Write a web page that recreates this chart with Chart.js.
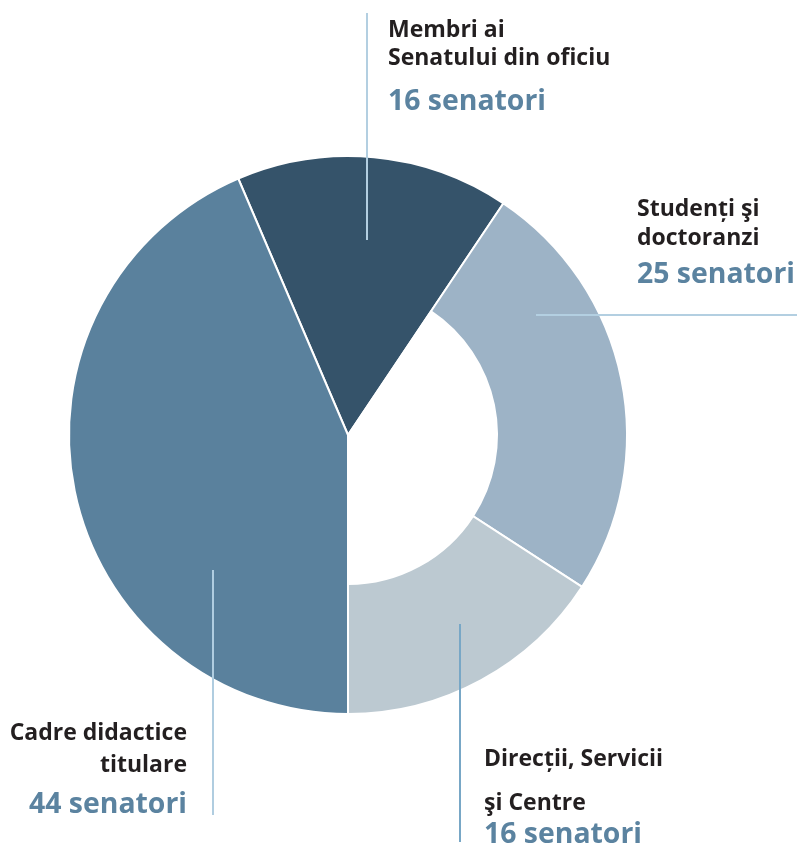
<!DOCTYPE html>
<html>
<head>
<meta charset="utf-8">
<script src="https://cdn.jsdelivr.net/npm/chart.js@4"></script>
<style>
  html, body { margin: 0; padding: 0; background: #fff; }
  #wrap { position: relative; width: 797px; height: 847px; }
  #wrap canvas { position: absolute; left: 0; top: 0; }
</style>
</head>
<body>
<div id="wrap">
  <canvas id="pie" width="797" height="847"></canvas>
  <canvas id="hole" width="797" height="847"></canvas>
</div>
<script>
// date
const categorii = ["Membri ai Senatului din oficiu", "Studenți şi doctoranzi", "Direcții, Servicii şi Centre", "Cadre didactice titulare"];
const senatori = [16, 25, 16, 44];
const randuri = [["Membri ai", "Senatului din oficiu"], ["Studenți şi", "doctoranzi"], ["Direcții, Servicii", "şi Centre"], ["Cadre didactice", "titulare"]];
const culori = ["#35536a", "#9db3c6", "#bcc9d1", "#5a819d"];
// felii care au gol in mijloc
const cuGol = [false, true, true, false];

// asezarea etichetelor (nu sunt date)
const etichete = [
  { x: 388, align: "left", y: [37, 65, 110], linie: [367, 13, 367, 240], culoare: "#b3cfe1" },
  { x: 637, align: "left", y: [216, 245, 283], linie: [536, 315, 797, 315], culoare: "#b3cfe1" },
  { x: 484, align: "left", y: [766, 810, 843], linie: [460, 624, 460, 842], culoare: "#78a7c6" },
  { x: 187, align: "right", y: [740, 772, 813], linie: [213, 570, 213, 815], culoare: "#b0cde0" },
];

const padding = { left: 0, right: 101, top: 23, bottom: 0 };
const rotatie = -23.17;

const pluginEtichete = {
  id: "etichete",
  afterDraw(chart) {
    const ctx = chart.ctx;
    ctx.save();
    etichete.forEach((e, i) => {
      ctx.strokeStyle = e.culoare;
      ctx.lineWidth = 2;
      ctx.beginPath();
      ctx.moveTo(e.linie[0], e.linie[1]);
      ctx.lineTo(e.linie[2], e.linie[3]);
      ctx.stroke();

      ctx.textAlign = e.align;
      ctx.textBaseline = "alphabetic";
      ctx.fillStyle = "#231f20";
      ctx.font = "bold 23px 'Open Sans'";
      ctx.fillText(randuri[i][0], e.x, e.y[0]);
      ctx.fillText(randuri[i][1], e.x, e.y[1]);
      ctx.fillStyle = "#5b83a0";
      ctx.font = "bold 28.4px 'Open Sans'";
      ctx.fillText(senatori[i] + " senatori", e.x, e.y[2]);
    });
    ctx.restore();
  },
};

const optiuni = (raza) => ({
  responsive: false,
  animation: false,
  devicePixelRatio: 1,
  rotation: rotatie,
  radius: raza,
  layout: { padding: padding },
  plugins: { legend: { display: false }, tooltip: { enabled: false } },
  events: [],
});

new Chart(document.getElementById("pie").getContext("2d"), {
  type: "pie",
  data: {
    labels: categorii,
    datasets: [{
      data: senatori,
      backgroundColor: culori,
      borderColor: "#ffffff",
      borderWidth: 2,
    }],
  },
  options: optiuni(279),
});

// golul alb din mijloc, doar peste feliile care il au
new Chart(document.getElementById("hole").getContext("2d"), {
  type: "pie",
  data: {
    labels: categorii,
    datasets: [{
      data: senatori,
      backgroundColor: cuGol.map((g) => (g ? "#ffffff" : "rgba(0,0,0,0)")),
      borderWidth: 0,
    }],
  },
  options: optiuni(150),
  plugins: [pluginEtichete],
});
</script>
</body>
</html>
